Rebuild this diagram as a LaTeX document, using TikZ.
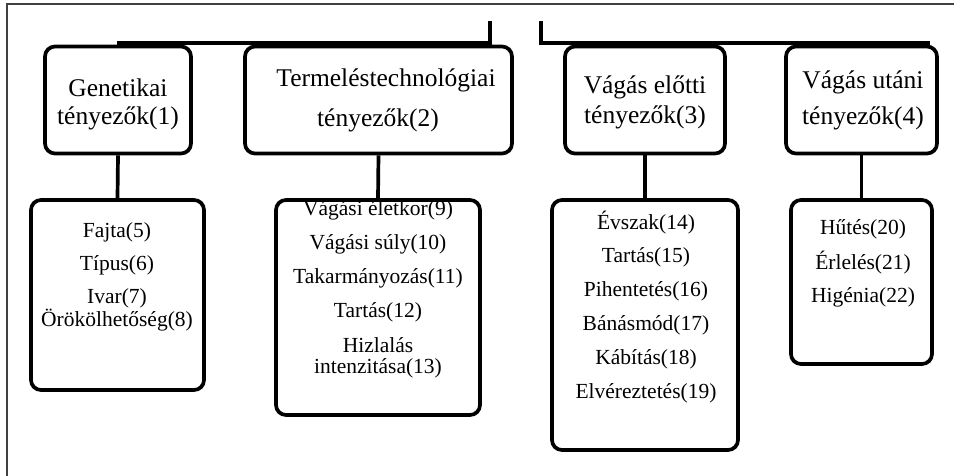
\documentclass[tikz,border=0pt]{standalone}
\usepackage{fontspec}
\setmainfont{Liberation Serif}
\begin{document}
\begin{tikzpicture}[x=1pt,y=-1pt,
  box/.style={draw=black,line width=3.7pt,rounded corners=10pt,inner sep=0pt},
  big/.style={inner sep=0pt,font=\fontsize{25.5}{28}\selectfont},
  small/.style={inner sep=0pt,font=\fontsize{21.5}{24}\selectfont},
  conn/.style={draw=black,line width=3.7pt},
  frame/.style={draw=black!75,line width=1.3pt}]
\useasboundingbox (0,0) rectangle (954,476);
% frame
\coordinate (fa) at (7,476);
\coordinate (fb) at (7,4);
\coordinate (fc) at (954,4);
\draw[frame] (fa) -- (fb) -- (fc);
% top boxes
\node[box,minimum width=146pt,minimum height=107pt] (b1) at (118,100) {};
\node[box,minimum width=267pt,minimum height=107pt] (b2) at (378.5,100) {};
\node[box,minimum width=160pt,minimum height=107pt] (b3) at (645,100) {};
\node[box,minimum width=151pt,minimum height=107pt] (b4) at (861.5,100) {};
% bottom boxes
\node[box,minimum width=173pt,minimum height=190pt] (b5) at (117.5,295) {};
\node[box,minimum width=204pt,minimum height=215pt] (b6) at (378,307.5) {};
\node[box,minimum width=186pt,minimum height=250pt] (b7) at (645,325) {};
\node[box,minimum width=141pt,minimum height=164pt] (b8) at (861.5,282) {};
% top connector
\coordinate (l0) at (117,43);
\coordinate (l1) at (490,43);
\coordinate (l2) at (490,21);
\coordinate (r0) at (541,21);
\coordinate (r1) at (541,43);
\coordinate (r2) at (930,43);
\draw[conn] (l0) -- (l1) -- (l2);
\draw[conn] (r0) -- (r1) -- (r2);
% vertical connectors
\draw[conn] (b1.south) -- (b5.north);
\draw[conn] (b2.south) -- (b6.north);
\draw[conn] (b3.south) -- (b7.north);
\draw[conn] (b4.south) -- (b8.north);
% top texts
\node[big] (t1a) at (118,88) {Genetikai};
\node[big] (t1b) at (118,118) {tényezők(1)};
\node[big] (t2a) at (386,80) {Termeléstechnológiai};
\node[big] (t2b) at (378,120) {tényezők(2)};
\node[big] (t3a) at (645,87) {Vágás előtti};
\node[big] (t3b) at (645,117) {tényezők(3)};
\node[big] (t4a) at (863,82) {Vágás utáni};
\node[big] (t4b) at (863,118) {tényezők(4)};
% box 5
\node[small] (s5) at (117,232) {Fajta(5)};
\node[small] (s6) at (117,265) {Típus(6)};
\node[small] (s7) at (117,298) {Ivar(7)};
\node[small] (s8) at (117,320) {Örökölhetőség(8)};
% box 6
\node[small] (s9) at (378,210) {Vágási életkor(9)};
\node[small] (s10) at (378,244) {Vágási súly(10)};
\node[small] (s11) at (378,278) {Takarmányozás(11)};
\node[small] (s12) at (378,312) {Tartás(12)};
\node[small] (s13a) at (378,345) {Hizlalás};
\node[small] (s13b) at (378,368) {intenzitása(13)};
% box 7
\node[small] (s14) at (646,223) {Évszak(14)};
\node[small] (s15) at (646,257) {Tartás(15)};
\node[small] (s16) at (646,291) {Pihentetés(16)};
\node[small] (s17) at (646,325) {Bánásmód(17)};
\node[small] (s18) at (646,359) {Kábítás(18)};
\node[small] (s19) at (646,393) {Elvéreztetés(19)};
% box 8
\node[small] (s20) at (863,229) {Hűtés(20)};
\node[small] (s21) at (863,263) {Érlelés(21)};
\node[small] (s22) at (863,297) {Higénia(22)};
\end{tikzpicture}
\end{document}
